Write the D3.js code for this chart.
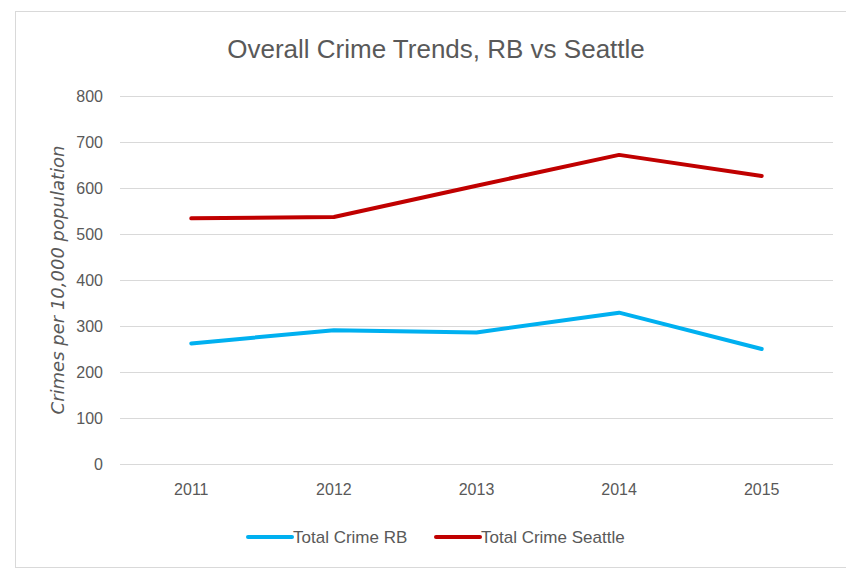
<!DOCTYPE html>
<html>
<head>
<meta charset="utf-8">
<script src="https://cdn.jsdelivr.net/npm/d3@7"></script>
<style>
  body { margin: 0; background: #fff; }
  text { font-family: 'Liberation Sans Narrow', 'Liberation Sans', sans-serif; fill: #595959; }
</style>
</head>
<body>
<div id="chart"></div>
<script>
const years = ['2011', '2012', '2013', '2014', '2015'];
const crimeRB = [262, 291, 286, 329, 250];
const crimeSeattle = [534, 537, 605, 672, 626];
const yTicks = [0, 100, 200, 300, 400, 500, 600, 700, 800];
const seriesNames = ['Total Crime RB', 'Total Crime Seattle'];
const seriesColors = ['#00b0f0', '#c00000'];

const width = 846;
const height = 569;
const margin = { top: 96, right: 13, bottom: 105, left: 120 };
const innerW = width - margin.left - margin.right;
const innerH = height - margin.top - margin.bottom;

const svg = d3
  .select('#chart')
  .append('svg')
  .attr('width', width)
  .attr('height', height);

// chart frame
svg
  .append('rect')
  .attr('x', 15.5)
  .attr('y', 11.5)
  .attr('width', 840)
  .attr('height', 556)
  .attr('fill', '#fff')
  .attr('stroke', '#d9d9d9');

// title
svg
  .append('text')
  .attr('x', 436)
  .attr('y', 58)
  .attr('text-anchor', 'middle')
  .style('font-size', '26px')
  .text('Overall Crime Trends, RB vs Seattle');

const g = svg
  .append('g')
  .attr('transform', `translate(${margin.left},${margin.top})`);

const x = d3.scaleBand().domain(years).range([0, innerW]);
const y = d3.scaleLinear().domain([0, 800]).range([innerH, 0]);

// gridlines + y labels
const yAxis = g
  .append('g')
  .call(d3.axisLeft(y).tickValues(yTicks).tickSize(-innerW).tickPadding(17));
yAxis.select('.domain').remove();
yAxis.selectAll('.tick line').attr('stroke', '#d9d9d9');
yAxis.selectAll('.tick text').style('font-size', '16px').attr('fill', '#595959');

// x labels
const xAxis = g
  .append('g')
  .attr('transform', `translate(0,${innerH})`)
  .call(d3.axisBottom(x).tickSize(0).tickPadding(20));
xAxis.select('.domain').remove();
xAxis.selectAll('.tick text').style('font-size', '16px').attr('fill', '#595959');

// y axis title
svg
  .append('text')
  .attr('transform', `translate(64,${margin.top + innerH / 2}) rotate(-90)`)
  .attr('text-anchor', 'middle')
  .style('font-family', "'DejaVu Sans', sans-serif")
  .style('font-style', 'italic')
  .style('font-size', '18px')
  .text('Crimes per 10,000 population');

// lines
const line = d3
  .line()
  .x((d, i) => x(years[i]) + x.bandwidth() / 2)
  .y((d) => y(d));

[crimeRB, crimeSeattle].forEach((values, i) => {
  g.append('path')
    .datum(values)
    .attr('d', line)
    .attr('fill', 'none')
    .attr('stroke', seriesColors[i])
    .attr('stroke-width', 4)
    .attr('stroke-linecap', 'round')
    .attr('stroke-linejoin', 'round');
});

// legend
const legendX = [248, 436];
seriesNames.forEach((name, i) => {
  const lg = svg.append('g').attr('transform', `translate(${legendX[i]},537)`);
  lg.append('line')
    .attr('x1', 0)
    .attr('x2', 44)
    .attr('stroke', seriesColors[i])
    .attr('stroke-width', 4)
    .attr('stroke-linecap', 'round');
  lg.append('text')
    .attr('x', 45)
    .attr('dy', '0.35em')
    .style('font-size', '17px')
    .text(name);
});
</script>
</body>
</html>
